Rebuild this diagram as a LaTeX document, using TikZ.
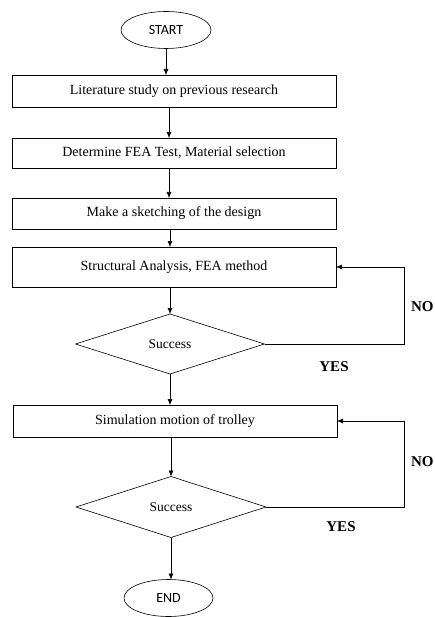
\documentclass[tikz,border=0pt]{standalone}
\usepackage{fontspec}
\setmainfont{Liberation Serif}
\newfontfamily\calib{Carlito}
\usetikzlibrary{shapes.geometric,arrows.meta}
\begin{document}
\begin{tikzpicture}[x=1pt,y=-1pt,
  line width=0.6pt,
  every node/.style={inner sep=0pt,outer sep=0pt},
  term/.style={draw,ellipse,minimum width=90pt,minimum height=37pt,font=\calib\fontsize{14}{16}\selectfont},
  proc/.style={draw,rectangle,minimum width=324pt,font=\fontsize{14}{16}\selectfont},
  dec/.style={draw,diamond,aspect=3.15,minimum width=189pt,minimum height=60pt,font=\fontsize{13.5}{16}\selectfont},
  lbl/.style={font=\bfseries\fontsize{15}{17}\selectfont},
  arr/.style={-{Latex[length=6pt,width=5pt]}}]
\useasboundingbox (0,0) rectangle (435,617);
\fill[white] (0,0) rectangle (435,617);
\node[term] (start) at (166,30) {START};
\node[proc,minimum height=32pt] (b1) at (174,91) {Literature study on previous research};
\node[proc,minimum height=30pt] (b2) at (174,153) {Determine FEA Test, Material selection};
\node[proc,minimum height=31pt] (b3) at (174,213.5) {Make a sketching of the design};
\node[proc,minimum height=40pt] (b4) at (174,267) {Structural Analysis, FEA method};
\node[dec] (d1) at (170,344) {Success};
\node[proc,minimum height=32pt] (b5) at (175,421) {Simulation motion of trolley};
\node[dec,minimum width=190pt,minimum height=61pt] (d2) at (171,507) {Success};
\node[term,minimum width=89pt] (end) at (168.5,598) {END};
\coordinate (rx) at (404,0);
\coordinate (c1) at (169,0);
\coordinate (c2) at (170,0);
\node[lbl,anchor=west] (no1) at (411,307) {NO};
\node[lbl] (yes1) at (334,367) {YES};
\node[lbl,anchor=west] (no2) at (411,462) {NO};
\node[lbl] (yes2) at (341,527) {YES};
\draw[arr] (start.south) -- (start.south |- b1.north);
\draw[arr] (b1.south -| c1) -- (b2.north -| c1);
\draw[arr] (b2.south -| c1) -- (b3.north -| c1);
\draw[arr] (b3.south -| c2) -- (b4.north -| c2);
\draw[arr] (b4.south -| d1) -- (d1.north);
\draw[arr] (d1.south) -- (b5.north -| d1);
\draw[arr] (b5.south -| d2) -- (d2.north);
\draw[arr] (d2.south) -- (end.north -| d2);
\draw[arr] (d1.east) -- (d1.east -| rx) |- (b4.east);
\draw[arr] (d2.east) -- (d2.east -| rx) |- (b5.east);
\end{tikzpicture}
\end{document}
